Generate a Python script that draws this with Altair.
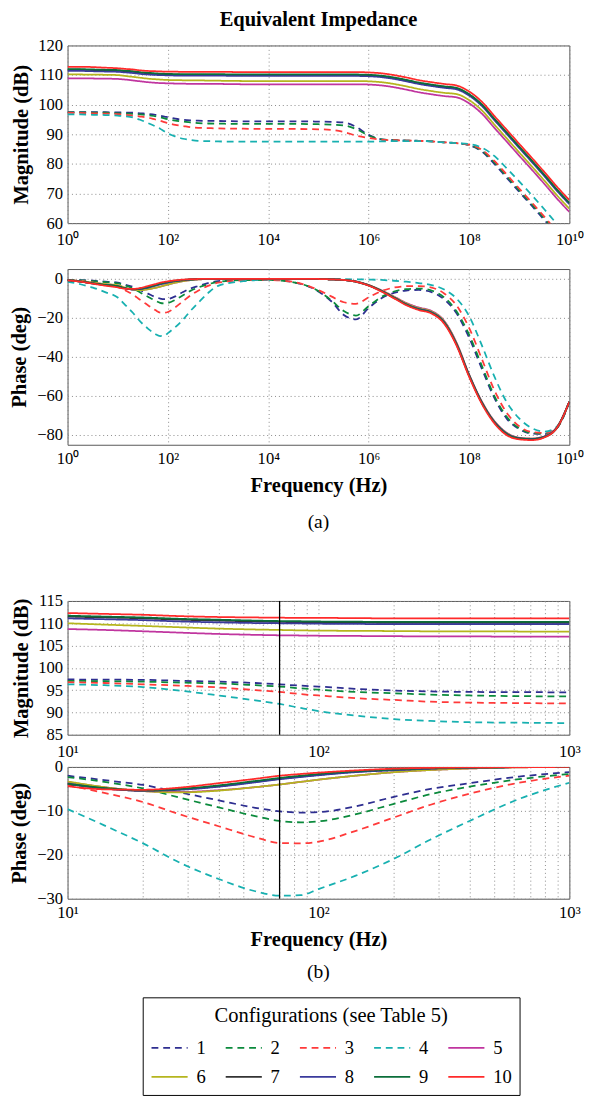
import altair as alt
import pandas as pd
import math

FONT = "Liberation Serif"

FREQ = [1, 1.8, 3.2, 5.6, 10, 14, 20, 28, 40, 56, 70, 85, 100, 140, 200, 280, 400, 630, 1000,
        3200, 1e4, 3.2e4, 1e5, 1.8e5, 3.2e5, 5.6e5, 1e6, 1.8e6, 3.2e6, 5.6e6, 1e7, 1.8e7,
        3.2e7, 5.6e7, 1e8, 1.8e8, 3.2e8, 5.6e8, 1e9, 1.8e9, 3.2e9, 5.6e9, 1e10]

CONFIGS = ["1", "2", "3", "4", "5", "6", "7", "8", "9", "10"]
COLORS = ["#2e2e90", "#0b8a3c", "#ff3a3a", "#17b0b0", "#c0359f",
          "#b5b51e", "#333333", "#3a3a9c", "#0b6e3a", "#ff2a2a"]
DASHES = [[7, 5], [7, 5], [7, 5], [7, 5], [1, 0], [1, 0], [1, 0], [1, 0], [1, 0], [1, 0]]
WIDTHS = [1.8, 1.8, 1.8, 1.8, 2.2, 2.2, 2.2, 2.2, 2.2, 2.2]

# Magnitude (dB)
MAG_1 = [97.5, 97.5, 97.5, 97.45, 97.4, 97.35, 97.3, 97.1, 96.9, 96.6,
         96.3, 96.0, 95.8, 95.3, 94.9, 94.7, 94.6, 94.55, 94.5, 94.4,
         94.4, 94.4, 94.3, 94.2, 94.0, 92.5, 89.8, 88.3, 88.0, 87.9,
         87.8, 87.6, 87.3, 87.0, 86.3, 84.2, 80.0, 75.4, 70.6, 65.8,
         61.0, 56.2, 51.4]
MAG_2 = [97.4, 97.4, 97.35, 97.3, 97.1, 97.0, 96.9, 96.7, 96.5, 96.1,
         95.8, 95.4, 95.1, 94.6, 94.3, 94.0, 93.8, 93.65, 93.6, 93.5,
         93.5, 93.5, 93.4, 93.3, 93.0, 91.8, 89.6, 88.3, 88.0, 87.9,
         87.8, 87.6, 87.3, 87.0, 86.4, 84.5, 80.5, 75.9, 71.1, 66.3,
         61.5, 56.7, 51.9]
MAG_3 = [97.3, 97.2, 97.1, 97.0, 96.8, 96.6, 96.3, 96.0, 95.6, 95.0,
         94.6, 94.1, 93.8, 93.2, 92.8, 92.4, 92.2, 92.1, 92.0, 91.9,
         91.8, 91.8, 91.7, 91.5, 90.8, 89.6, 88.8, 88.2, 88.0, 87.9,
         87.8, 87.6, 87.3, 87.0, 86.5, 84.8, 81.0, 76.5, 71.7, 66.9,
         62.1, 57.3, 52.5]
MAG_4 = [96.7, 96.7, 96.6, 96.5, 96.3, 96.1, 95.7, 94.9, 93.8, 92.7,
         91.9, 91.0, 90.3, 89.3, 88.5, 88.1, 87.8, 87.7, 87.6, 87.5,
         87.5, 87.5, 87.5, 87.5, 87.5, 87.5, 87.5, 87.6, 87.7, 87.7,
         87.7, 87.6, 87.3, 87.0, 86.7, 85.5, 82.7, 78.6, 74.1, 69.4,
         64.6, 59.8, 55.0]
MAG_5 = [108.9, 108.9, 108.85, 108.8, 108.7, 108.5, 108.2, 107.9, 107.6, 107.4,
         107.3, 107.25, 107.2, 107.15, 107.1, 107.05, 107.05, 107.0, 107.0, 106.9,
         106.9, 106.9, 106.9, 106.9, 106.9, 106.9, 106.8, 106.5, 105.9, 105.1,
         104.2, 103.5, 102.9, 102.5, 100.5, 97.0, 92.2, 87.6, 82.8, 78.0,
         73.2, 68.4, 63.8]
MAG_6 = [110.2, 110.2, 110.15, 110.1, 110.0, 109.7, 109.4, 109.1, 108.8, 108.6,
         108.5, 108.4, 108.35, 108.3, 108.25, 108.2, 108.2, 108.15, 108.1, 108.0,
         108.0, 108.0, 108.0, 108.0, 108.0, 108.0, 107.9, 107.6, 107.0, 106.2,
         105.3, 104.6, 104.0, 103.6, 101.6, 98.1, 93.3, 88.7, 83.9, 79.1,
         74.3, 69.5, 64.9]
MAG_7 = [111.8, 111.8, 111.7, 111.6, 111.5, 111.3, 111.1, 110.8, 110.6, 110.4,
         110.3, 110.25, 110.2, 110.15, 110.1, 110.1, 110.1, 110.1, 110.1, 110.0,
         110.0, 110.0, 110.0, 110.0, 110.0, 110.0, 109.9, 109.6, 109.0, 108.2,
         107.3, 106.6, 106.0, 105.5, 103.4, 99.9, 95.1, 90.5, 85.7, 80.9,
         76.1, 71.3, 66.7]
MAG_8 = [111.4, 111.4, 111.3, 111.2, 111.1, 110.9, 110.7, 110.4, 110.2, 110.05,
         110.0, 109.95, 109.9, 109.85, 109.8, 109.8, 109.8, 109.8, 109.8, 109.7,
         109.7, 109.7, 109.7, 109.7, 109.7, 109.7, 109.6, 109.3, 108.7, 107.9,
         107.0, 106.3, 105.7, 105.2, 103.1, 99.6, 94.8, 90.2, 85.4, 80.6,
         75.8, 71.0, 66.4]
MAG_9 = [112.0, 112.0, 111.9, 111.8, 111.7, 111.5, 111.3, 111.0, 110.8, 110.6,
         110.5, 110.45, 110.4, 110.35, 110.3, 110.3, 110.3, 110.3, 110.3, 110.2,
         110.2, 110.2, 110.2, 110.2, 110.2, 110.2, 110.1, 109.8, 109.2, 108.4,
         107.5, 106.8, 106.2, 105.7, 103.6, 100.1, 95.3, 90.7, 85.9, 81.1,
         76.3, 71.5, 66.9]
MAG_10 = [112.8, 112.8, 112.7, 112.5, 112.3, 112.1, 111.9, 111.6, 111.4, 111.3,
          111.25, 111.2, 111.2, 111.15, 111.1, 111.1, 111.1, 111.1, 111.1, 111.0,
          111.0, 111.0, 111.0, 111.0, 111.0, 111.0, 110.9, 110.6, 110.0, 109.2,
          108.3, 107.6, 107.0, 106.5, 104.5, 101.0, 96.2, 91.6, 86.8, 82.0,
          77.2, 72.4, 67.8]

# Phase (deg)
PH_1 = [-0.5, -0.7, -1.0, -1.4, -2.0, -3.0, -4.1, -5.8, -7.6, -9.3,
        -10.1, -10.4, -10.3, -9.0, -6.8, -5.0, -3.7, -2.2, -1.2, -0.6,
        -0.5, -1.8, -6.5, -11.5, -18.5, -20.8, -15.0, -10.0, -7.2, -6.0,
        -5.7, -6.8, -10.5, -17.5, -30.0, -46.0, -61.0, -71.5, -77.0, -79.3,
        -79.5, -76.5, -63.0]
PH_2 = [-0.6, -0.8, -1.2, -1.7, -2.3, -3.4, -4.9, -7.0, -9.2, -11.2,
        -12.3, -12.6, -12.4, -10.8, -8.4, -6.2, -4.5, -2.8, -1.6, -0.7,
        -0.6, -1.8, -6.3, -11.0, -16.5, -18.8, -14.0, -9.3, -6.5, -5.3,
        -5.0, -6.0, -9.5, -16.5, -28.5, -44.5, -60.0, -70.5, -76.5, -79.0,
        -79.3, -76.5, -63.0]
PH_3 = [-0.8, -1.2, -1.9, -2.9, -4.1, -5.9, -8.0, -10.8, -13.5, -16.0,
        -17.3, -17.4, -17.0, -14.6, -11.5, -8.6, -6.1, -3.6, -2.0, -0.8,
        -0.6, -1.6, -5.8, -9.0, -12.0, -12.8, -9.5, -6.3, -4.5, -3.8,
        -3.7, -4.5, -7.5, -13.5, -25.0, -41.0, -57.0, -68.5, -75.5, -78.5,
        -79.0, -76.3, -63.0]
PH_4 = [-1.5, -2.8, -4.5, -6.8, -9.6, -13.3, -17.4, -21.8, -25.5, -28.3,
        -29.3, -29.2, -27.8, -24.8, -20.9, -16.5, -12.3, -7.3, -3.6, -1.2,
        -0.4, -0.2, -0.2, -0.2, -0.2, -0.3, -0.4, -0.6, -1.0, -1.5,
        -2.2, -3.2, -5.5, -10.0, -19.0, -34.0, -50.0, -63.0, -71.5, -76.5,
        -78.3, -75.8, -63.0]
PH_5 = [-0.6, -1.2, -2.0, -2.8, -3.4, -4.6, -5.5, -5.7, -5.3, -4.6,
        -4.0, -3.4, -2.9, -2.0, -1.2, -0.7, -0.35, -0.1, 0.0, 0.0,
        0.0, 0.0, -0.1, -0.3, -0.6, -1.4, -3.2, -5.9, -9.1, -12.3,
        -14.7, -16.5, -21.5, -32.5, -48.8, -62.8, -72.8, -78.8, -81.4, -81.8,
        -80.6, -76.1, -63.0]
PH_6 = [-0.6, -1.2, -2.0, -2.7, -3.3, -4.6, -5.5, -5.8, -5.4, -4.6,
        -4.0, -3.4, -2.9, -2.0, -1.2, -0.7, -0.35, -0.1, 0.0, 0.0,
        0.0, 0.0, -0.1, -0.3, -0.6, -1.4, -3.2, -6.0, -9.3, -12.6,
        -15.0, -16.8, -21.8, -32.8, -49.0, -63.0, -73.0, -79.0, -81.5, -81.9,
        -80.7, -76.2, -63.0]
PH_7 = [-0.7, -1.4, -2.4, -3.2, -3.9, -4.9, -5.4, -5.1, -4.4, -3.4,
        -2.7, -2.2, -1.8, -1.1, -0.7, -0.35, -0.15, -0.05, 0.0, 0.0,
        0.0, 0.0, -0.1, -0.3, -0.6, -1.5, -3.4, -6.3, -9.7, -13.1,
        -15.6, -17.4, -22.4, -33.4, -49.4, -63.4, -73.4, -79.4, -81.7, -82.1,
        -80.9, -76.4, -63.0]
PH_8 = [-0.7, -1.4, -2.4, -3.2, -3.8, -4.9, -5.4, -5.2, -4.5, -3.5,
        -2.8, -2.3, -1.9, -1.2, -0.75, -0.4, -0.2, -0.05, 0.0, 0.0,
        0.0, 0.0, -0.1, -0.3, -0.6, -1.4, -3.3, -6.2, -9.6, -13.0,
        -15.4, -17.2, -22.2, -33.2, -49.2, -63.2, -73.2, -79.2, -81.6, -82.0,
        -80.8, -76.3, -63.0]
PH_9 = [-0.7, -1.4, -2.3, -3.1, -3.8, -4.8, -5.3, -5.0, -4.2, -3.2,
        -2.5, -2.0, -1.6, -1.0, -0.6, -0.3, -0.15, -0.05, 0.0, 0.0,
        0.0, 0.0, -0.1, -0.3, -0.6, -1.5, -3.4, -6.3, -9.7, -13.2,
        -15.7, -17.5, -22.5, -33.5, -49.5, -63.5, -73.5, -79.5, -81.8, -82.2,
        -81.0, -76.5, -63.0]
PH_10 = [-0.8, -1.5, -2.5, -3.5, -4.4, -5.1, -5.2, -4.7, -3.7, -2.7,
         -2.0, -1.6, -1.3, -0.8, -0.4, -0.2, -0.1, -0.05, 0.0, 0.0,
         0.0, 0.0, -0.1, -0.3, -0.6, -1.5, -3.5, -6.5, -10.0, -13.5,
         -16.0, -17.8, -23.0, -34.0, -50.0, -64.0, -74.0, -80.0, -82.2, -82.6,
         -81.2, -76.5, -63.0]

MAGS = [MAG_1, MAG_2, MAG_3, MAG_4, MAG_5, MAG_6, MAG_7, MAG_8, MAG_9, MAG_10]
PHASES = [PH_1, PH_2, PH_3, PH_4, PH_5, PH_6, PH_7, PH_8, PH_9, PH_10]

MARKER_FREQ = [70]

XTICKS_A = [1, 1e2, 1e4, 1e6, 1e8, 1e10]
XLABELS_A = ["10\u2070", "10\u00b2", "10\u2074", "10\u2076", "10\u2078", "10\u00b9\u2070"]
XTICKS_B = [10, 20, 30, 40, 50, 60, 70, 80, 90, 100, 200, 300, 400, 500, 600, 700, 800, 900, 1000]
XLABELS_B = {10: "10\u00b9", 100: "10\u00b2", 1000: "10\u00b3"}

YTICKS_MAG_A = [60, 70, 80, 90, 100, 110, 120]
YTICKS_PH_A = [-80, -60, -40, -20, 0]
YTICKS_MAG_B = [85, 90, 95, 100, 105, 110, 115]
YTICKS_PH_B = [-30, -20, -10, 0]

rows = []
for cfg, mags, phs in zip(CONFIGS, MAGS, PHASES):
    for f, m, p in zip(FREQ, mags, phs):
        rows.append({"freq": f, "cfg": cfg, "mag": m, "phase": p})
df = pd.DataFrame(rows)
df_b = df[(df["freq"] >= 10) & (df["freq"] <= 1000)]
marker_df = pd.DataFrame({"freq": MARKER_FREQ})


def label_expr(values, labels):
    expr = "''"
    for v, lab in zip(reversed(values), reversed(labels)):
        expr = f"abs(log(datum.value)/log(10) - {math.log10(v):.4f}) < 0.01 ? '{lab}' : ({expr})"
    return expr


expr_a = label_expr(XTICKS_A, XLABELS_A)
expr_b = label_expr(XTICKS_B, [XLABELS_B.get(v, "") for v in XTICKS_B])

legend = alt.Legend(
    orient="none", legendX=77, legendY=975, columns=5, direction="horizontal",
    title="Configurations (see Table 5)", titleFont=FONT, titleFontSize=21, titleLimit=400,
    titleFontWeight="normal", titleColor="black", titleAnchor="middle", titlePadding=3,
    labelFont=FONT, labelFontSize=19, labelColor="black", labelOffset=8,
    symbolType="stroke", symbolSize=1369, symbolStrokeWidth=1.8,
    strokeColor="black", fillColor="white", padding=8,
    columnPadding=16, rowPadding=0,
)

color_enc = alt.Color("cfg:N", scale=alt.Scale(domain=CONFIGS, range=COLORS), legend=legend)
dash_enc = alt.StrokeDash("cfg:N", scale=alt.Scale(domain=CONFIGS, range=DASHES), legend=legend)
width_enc = alt.StrokeWidth("cfg:N", scale=alt.Scale(domain=CONFIGS, range=WIDTHS), legend=None)

W = 514


def line_chart(data, xdom, xvals, xexpr, ycol, ydom, yvals, ytitle, xtitle, h, xlabpad=5):
    return alt.Chart(data).mark_line(clip=True, interpolate="monotone").encode(
        x=alt.X("freq:Q", scale=alt.Scale(type="log", domain=xdom, nice=False),
                axis=alt.Axis(values=xvals, labelExpr=xexpr, title=xtitle, labelFlush=False,
                              labelOverlap=False, labelPadding=xlabpad, titlePadding=9)),
        y=alt.Y(f"{ycol}:Q", scale=alt.Scale(domain=ydom, nice=False, zero=False),
                axis=alt.Axis(values=yvals, title=ytitle, labelPadding=5, titlePadding=7)),
        color=color_enc,
        strokeDash=dash_enc,
        strokeWidth=width_enc,
    ).properties(width=W, height=h)


def spacer(h):
    return alt.Chart(pd.DataFrame({"v": [0]})).mark_point(opacity=0).encode(
        x=alt.value(0), y=alt.value(0)
    ).properties(width=W, height=h, view=alt.ViewBackground(strokeOpacity=0))


amag = line_chart(df, [1, 1e10], XTICKS_A, expr_a, "mag", [60, 120], YTICKS_MAG_A,
                  "Magnitude (dB)", None, 182, xlabpad=9)
aphase = line_chart(df, [1, 1e10], XTICKS_A, expr_a, "phase", [-85, 5], YTICKS_PH_A,
                    "Phase (deg)", "Frequency (Hz)", 180, xlabpad=6).properties(
    title=alt.TitleParams("(a)", orient="bottom", anchor="middle", frame="group", font=FONT,
                          fontSize=20, fontWeight="normal", color="black", offset=17))

rule_b = alt.Chart(marker_df).mark_rule(color="black", strokeWidth=1.3).encode(x="freq:Q")

bmag = alt.layer(
    line_chart(df_b, [10, 1000], XTICKS_B, expr_b, "mag", [85, 115], YTICKS_MAG_B,
               "Magnitude (dB)", None, 137, xlabpad=9),
    rule_b,
).properties(width=W, height=137)
bphase = alt.layer(
    line_chart(df_b, [10, 1000], XTICKS_B, expr_b, "phase", [-30, 0], YTICKS_PH_B,
               "Phase (deg)", "Frequency (Hz)", 135, xlabpad=6),
    rule_b,
).properties(width=W, height=135,
             title=alt.TitleParams("(b)", orient="bottom", anchor="middle", frame="group", font=FONT,
                                   fontSize=20, fontWeight="normal", color="black", offset=13))

chart = alt.vconcat(
    amag, spacer(47), aphase, spacer(160), bmag, spacer(33), bphase,
    spacing=0, bounds="flush"
).properties(
    padding={"left": 0, "top": -12, "right": 0, "bottom": 0},
    title=alt.TitleParams("Equivalent Impedance", anchor="middle", frame="group", font=FONT,
                          fontSize=21, fontWeight="bold", color="black", offset=6)
).configure_view(
    stroke="#555555", strokeWidth=1
).configure_axis(
    labelFont=FONT, titleFont=FONT, labelFontSize=17, titleFontSize=21, titleFontWeight="bold",
    labelColor="black", titleColor="black", ticks=False, domain=False, grid=True,
    gridDash=[1, 3], gridColor="#888888", gridOpacity=1, gridWidth=1
)

chart.save("out.html", embed_options={"renderer": "svg", "actions": False})
